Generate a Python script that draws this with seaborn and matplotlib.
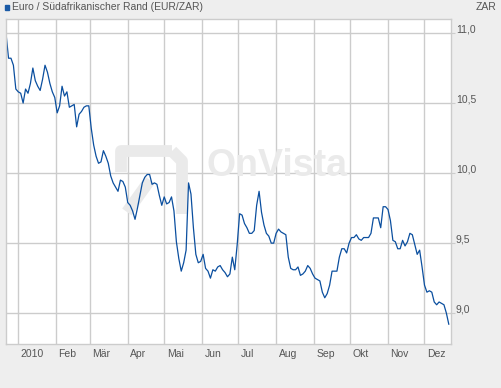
# EUR/ZAR 2010 - Kursverlauf im OnVista-Stil
import pandas as pd
import seaborn as sns
import matplotlib.pyplot as plt
from matplotlib.transforms import ScaledTranslation, blended_transform_factory
from matplotlib.patches import Rectangle
from matplotlib.lines import Line2D

start_date = "2009-12-22"
eurzar = [
    10.99, 10.82, 10.82, 10.77, 10.60, 10.58, 10.57, 10.50, 10.60, 10.57,
    10.64, 10.75, 10.66, 10.62, 10.59, 10.67, 10.77, 10.72, 10.64, 10.58,
    10.54, 10.43, 10.48, 10.62, 10.55, 10.58, 10.47, 10.48, 10.49, 10.33,
    10.42, 10.44, 10.47, 10.48, 10.48, 10.32, 10.20, 10.12, 10.07, 10.08,
    10.16, 10.12, 10.07, 9.98, 9.93, 9.90, 9.87, 9.95, 9.94, 9.90,
    9.79, 9.77, 9.73, 9.67, 9.75, 9.84, 9.93, 9.97, 9.99, 9.99,
    9.92, 9.93, 9.92, 9.84, 9.77, 9.83, 9.78, 9.79, 9.83, 9.73,
    9.51, 9.39, 9.30, 9.36, 9.45, 9.93, 9.85, 9.61, 9.42, 9.36,
    9.37, 9.42, 9.32, 9.30, 9.25, 9.31, 9.30, 9.33, 9.34, 9.31,
    9.29, 9.26, 9.28, 9.40, 9.31, 9.49, 9.71, 9.70, 9.64, 9.61,
    9.57, 9.57, 9.59, 9.77, 9.87, 9.72, 9.63, 9.57, 9.55, 9.50,
    9.50, 9.57, 9.60, 9.58, 9.57, 9.56, 9.40, 9.32, 9.31, 9.31,
    9.33, 9.27, 9.28, 9.30, 9.34, 9.32, 9.28, 9.25, 9.24, 9.23,
    9.15, 9.11, 9.14, 9.20, 9.30, 9.30, 9.30, 9.40, 9.46, 9.46,
    9.43, 9.50, 9.54, 9.54, 9.56, 9.53, 9.52, 9.54, 9.54, 9.54,
    9.57, 9.68, 9.68, 9.68, 9.61, 9.76, 9.76, 9.74, 9.66, 9.52,
    9.51, 9.46, 9.46, 9.52, 9.48, 9.51, 9.57, 9.56, 9.49, 9.42,
    9.45, 9.33, 9.20, 9.15, 9.16, 9.15, 9.08, 9.06, 9.08, 9.07,
    9.06, 9.00, 8.92,
]

month_labels = ["2010", "Feb", "Mär", "Apr", "Mai", "Jun",
                "Jul", "Aug", "Sep", "Okt", "Nov", "Dez"]
y_ticks = [9.0, 9.5, 10.0, 10.5, 11.0]
y_labels = ["9,0", "9,5", "10,0", "10,5", "11,0"]

dates = pd.date_range(start_date, periods=len(eurzar), freq="2D")
df = pd.DataFrame({"Datum": dates, "Kurs": eurzar})
month_starts = pd.date_range("2010-01-01", periods=len(month_labels), freq="MS")

sns.set_style("white")
plt.rcParams["font.family"] = ["Liberation Sans", "DejaVu Sans"]

W, H = 501, 388
grey_txt = "#555555"
grid_col = "#cccccc"

fig = plt.figure(figsize=(W / 100, H / 100), dpi=100, facecolor="#eeeeee")
ax = fig.add_axes([6 / W, 44 / H, 445 / W, 325 / H])
ax.set_facecolor("white")

sns.lineplot(data=df, x="Datum", y="Kurs", ax=ax, color="#0b4f9f", linewidth=0.9)

ax.set_xlim(pd.Timestamp("2009-12-21 22:00"), pd.Timestamp("2010-12-22 19:00"))
ax.set_ylim(8.78, 11.1)
ax.set_xlabel("")
ax.set_ylabel("")

ax.set_xticks(month_starts)
ax.set_xticklabels([])
ax.yaxis.tick_right()
ax.set_yticks(y_ticks)
ax.set_yticklabels([])
ax.grid(True, color=grid_col, linewidth=1.0)
ax.tick_params(axis="x", length=4.3, width=0.8, color=grid_col)
ax.tick_params(axis="y", length=2.9, width=0.8, color=grid_col)
for sp in ax.spines.values():
    sp.set_color(grid_col)
    sp.set_linewidth(1.0)

# Monatslabels rechts neben der Gitterlinie
px = fig.dpi_scale_trans
xtrans = blended_transform_factory(ax.transData, ax.transAxes) + ScaledTranslation(2.5 / 100, -13.3 / 100, px)
for d, lab in zip(month_starts, month_labels):
    ax.text(d, 0, lab, transform=xtrans, ha="left", va="baseline",
            fontsize=7.5, color=grey_txt, clip_on=False)

ytrans = blended_transform_factory(ax.transAxes, ax.transData) + ScaledTranslation(5 / 100, 0.6 / 100, px)
for v, lab in zip(y_ticks, y_labels):
    ax.text(1, v, lab, transform=ytrans, ha="left", va="baseline",
            fontsize=7.5, color=grey_txt, clip_on=False)

# Kopfzeile
fig.patches.append(Rectangle((5 / W, 1 - 9.7 / H), 4 / W, 4.5 / H,
                             transform=fig.transFigure, color="#1a5aa6"))
fig.text(12.5 / W, 1 - 10 / H, "Euro / Südafrikanischer Rand (EUR/ZAR)",
         ha="left", va="baseline", fontsize=7.5, color=grey_txt)
fig.text(496 / W, 1 - 10 / H, "ZAR", ha="right", va="baseline",
         fontsize=7.5, color=grey_txt)

# Wasserzeichen
wm = "#eaeaea"
ax.text(206 / W, 1 - 176.5 / H, "OnVista", transform=fig.transFigure,
        ha="left", va="baseline", fontsize=27, fontweight="bold",
        color=wm, zorder=1)
logo = [
    ([121, 121, 172], [172, 151, 151]),
    ([172, 182, 182], [151, 161, 214]),
    ([127, 150], [212, 180]),
]
for xs, ys in logo:
    ax.add_line(Line2D([x / W for x in xs], [1 - y / H for y in ys],
                       transform=fig.transFigure, color=wm, linewidth=8.5,
                       solid_capstyle="butt", solid_joinstyle="round", zorder=1))

fig.savefig("out.png", dpi=100, facecolor=fig.get_facecolor())
